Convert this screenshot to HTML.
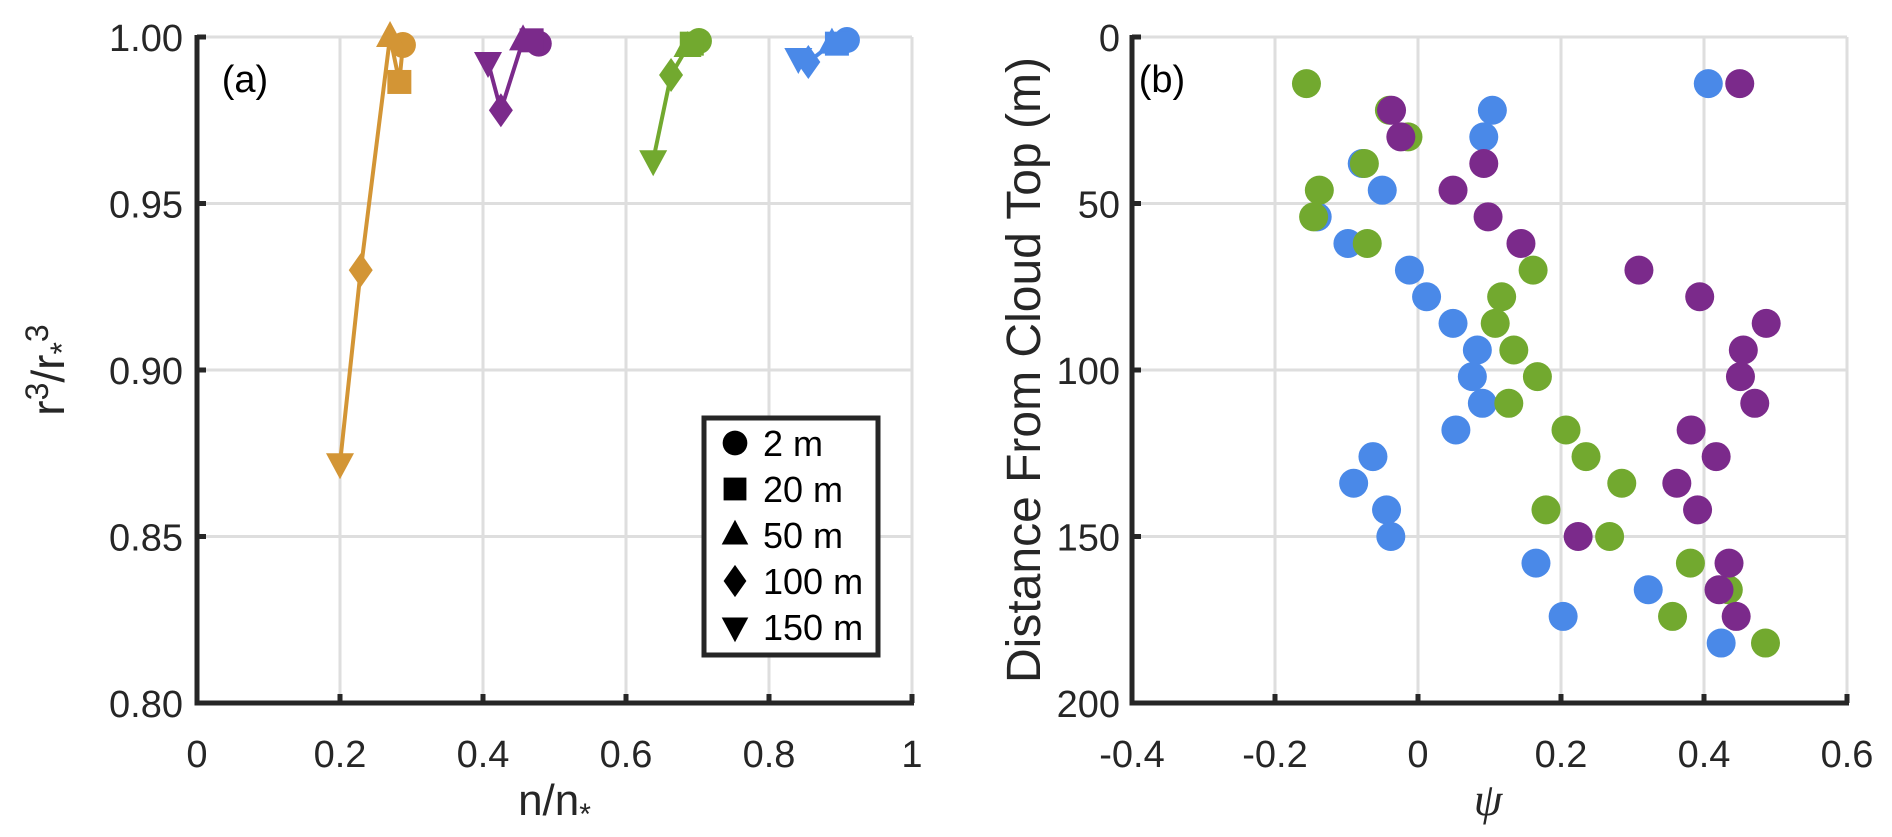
<!DOCTYPE html>
<html><head><meta charset="utf-8">
<style>
html,body{margin:0;padding:0;background:#fff;}
svg{display:block;font-family:"Liberation Sans",Arial,sans-serif;}
</style></head>
<body>
<svg id="fig" width="1892" height="837" viewBox="0 0 1892 837" xmlns="http://www.w3.org/2000/svg">
  <g id="panelA"></g>
  <g id="panelB"></g>
</svg>
<script>
// ---------- Panel (a) data ----------
const depthLabels = ["2 m","20 m","50 m","100 m","150 m"];
const markerShapes = ["circle","square","triangle","diamond","downtri"];
const orangeN = [0.288, 0.283, 0.270, 0.229, 0.200];
const orangeR = [0.9976, 0.9865, 1.000, 0.930, 0.872];
const purpleN = [0.478, 0.468, 0.456, 0.425, 0.407];
const purpleR = [0.998, 0.999, 0.999, 0.978, 0.9925];
const greenN = [0.702, 0.692, 0.686, 0.663, 0.638];
const greenR = [0.9988, 0.998, 0.997, 0.9886, 0.963];
const blueN = [0.909, 0.895, 0.888, 0.855, 0.841];
const blueR = [0.9991, 0.998, 0.998, 0.9925, 0.9937];
const aXTicks = [0, 0.2, 0.4, 0.6, 0.8, 1];
const aXTickLabels = ["0","0.2","0.4","0.6","0.8","1"];
const aYTicks = [0.80, 0.85, 0.90, 0.95, 1.00];
const aYTickLabels = ["0.80","0.85","0.90","0.95","1.00"];

// ---------- Panel (b) data ----------
const depths = [14,22,30,38,46,54,62,70,78,86,94,102,110,118,126,134,142,150,158,166,174,182];
const bluePsi = [0.406,0.104,0.092,-0.078,-0.050,-0.141,-0.098,-0.012,0.012,0.049,0.083,0.076,0.090,0.053,-0.063,-0.090,-0.044,-0.038,0.165,0.322,0.203,0.424];
const greenPsi = [-0.156,-0.040,-0.014,-0.075,-0.138,-0.146,-0.071,0.161,0.117,0.108,0.134,0.167,0.127,0.207,0.235,0.285,0.179,0.268,0.381,0.434,0.356,0.486];
const purplePsi = [0.450,-0.037,-0.024,0.092,0.049,0.098,0.144,0.309,0.394,0.487,0.455,0.451,0.471,0.382,0.417,0.362,0.391,0.224,0.435,0.421,0.445];
const bXTicks = [-0.4,-0.2,0,0.2,0.4,0.6];
const bXTickLabels = ["-0.4","-0.2","0","0.2","0.4","0.6"];
const bYTicks = [0,50,100,150,200];
const bYTickLabels = ["0","50","100","150","200"];

const NS = "http://www.w3.org/2000/svg";
const COL = {orange:"#d39535", purple:"#7b2a8b", green:"#72a92f", blue:"#4a89e8", axis:"#262626", grid:"#dedede"};
const TICK_FS = 38;
function mk(tag, attrs, parent){
  const e = document.createElementNS(NS, tag);
  for (const k in attrs) e.setAttribute(k, attrs[k]);
  parent.appendChild(e);
  return e;
}
const aX = v => 197 + v * 715;
const aY = v => 703 - (v - 0.8) / 0.2 * 666;
const bX = v => 1418 + v * 715;
const bY = v => 37 + v * 666 / 200;

function marker(shape, cx, cy, color, parent, s){
  s = s || 1;
  let e;
  if (shape === "circle") e = mk("circle", {cx:cx, cy:cy, r:13*s, fill:color}, parent);
  else if (shape === "square") e = mk("rect", {x:cx-12*s, y:cy-12*s, width:24*s, height:24*s, fill:color}, parent);
  else if (shape === "triangle") e = mk("polygon", {points:`${cx},${cy-16*s} ${cx-14*s},${cy+10*s} ${cx+14*s},${cy+10*s}`, fill:color}, parent);
  else if (shape === "diamond") e = mk("polygon", {points:`${cx},${cy-17*s} ${cx+12*s},${cy} ${cx},${cy+17*s} ${cx-12*s},${cy}`, fill:color}, parent);
  else e = mk("polygon", {points:`${cx},${cy+16*s} ${cx-14*s},${cy-10*s} ${cx+14*s},${cy-10*s}`, fill:color}, parent);
  return e;
}

// ---------- Panel A ----------
const A = document.getElementById("panelA");
const gA = mk("g", {}, A);


aXTicks.forEach(v => { if (v > 0) mk("line", {x1:aX(v), y1:aY(1.0), x2:aX(v), y2:aY(0.8), stroke:COL.grid, "stroke-width":3}, gA); });
aYTicks.forEach(v => { if (v > 0.8) mk("line", {x1:aX(0), y1:aY(v), x2:aX(1), y2:aY(v), stroke:COL.grid, "stroke-width":3}, gA); });

const seriesA = [
  {name:"orange", n:orangeN, r:orangeR},
  {name:"purple", n:purpleN, r:purpleR},
  {name:"green", n:greenN, r:greenR},
  {name:"blue", n:blueN, r:blueR}
];
seriesA.forEach(s => {
  const g = mk("g", {}, A);
  
  
  const pts = s.n.map((v,i) => aX(v) + "," + aY(s.r[i])).join(" ");
  const pl = mk("polyline", {points:pts, fill:"none", stroke:COL[s.name], "stroke-width":4, "stroke-linejoin":"round"}, g);
  
  
  s.n.forEach((v,i) => {
    const m = marker(markerShapes[i], aX(v), aY(s.r[i]), COL[s.name], g);
    
    
  });
});

const axA = mk("g", {}, A);


mk("line", {x1:aX(0), y1:aY(1.0)-2, x2:aX(0), y2:aY(0.8)+2.5, stroke:COL.axis, "stroke-width":5}, axA);
mk("line", {x1:aX(0)-2.5, y1:aY(0.8), x2:aX(1)+2, y2:aY(0.8), stroke:COL.axis, "stroke-width":5}, axA);
aXTicks.forEach((v,i) => {
  mk("line", {x1:aX(v), y1:aY(0.8), x2:aX(v), y2:aY(0.8)-9, stroke:COL.axis, "stroke-width":5}, axA);
  const t = mk("text", {x:aX(v), y:767, "font-size":TICK_FS, "text-anchor":"middle", fill:"#262626"}, axA);
  t.textContent = aXTickLabels[i];
  
  
});
aYTicks.forEach((v,i) => {
  mk("line", {x1:aX(0), y1:aY(v), x2:aX(0)+9, y2:aY(v), stroke:COL.axis, "stroke-width":5}, axA);
  const t = mk("text", {x:183, y:aY(v)+14, "font-size":TICK_FS, "text-anchor":"end", fill:"#262626"}, axA);
  t.textContent = aYTickLabels[i];
  
  
});

const labA = mk("text", {x:245, y:92, "font-size":38, "text-anchor":"middle", fill:"#000"}, A);
labA.textContent = "(a)";



const xtA = mk("text", {x:aX(0.5), y:815, "font-size":44, "text-anchor":"middle", fill:"#262626"}, A);
xtA.innerHTML = 'n/n<tspan font-size="30" dy="9">*</tspan>';



const ytA = mk("text", {x:0, y:0, "font-size":46, "text-anchor":"middle", fill:"#262626", transform:"translate(64,370) rotate(-90)"}, A);
ytA.innerHTML = 'r<tspan font-size="32" dy="-16">3</tspan><tspan dy="16">/r</tspan><tspan font-size="32" dy="9">*</tspan><tspan font-size="32" dy="-25">3</tspan>';



// legend
const leg = mk("g", {}, A);


mk("rect", {x:704, y:418, width:174, height:237, fill:"#fff", stroke:COL.axis, "stroke-width":5}, leg);
depthLabels.forEach((lab,i) => {
  const cy = 443 + i * 46;
  const row = mk("g", {}, leg);
  
  
  marker(markerShapes[i], 735, cy, "#000", row, 0.95);
  const t = mk("text", {x:763, y:cy+13, "font-size":36, fill:"#000"}, row);
  t.textContent = lab;
});

// ---------- Panel B ----------
const B = document.getElementById("panelB");
const gB = mk("g", {}, B);


bXTicks.forEach(v => { if (v > -0.4) mk("line", {x1:bX(v), y1:bY(0), x2:bX(v), y2:bY(200), stroke:COL.grid, "stroke-width":3}, gB); });
bYTicks.forEach(v => { if (v < 200) mk("line", {x1:bX(-0.4), y1:bY(v), x2:bX(0.6), y2:bY(v), stroke:COL.grid, "stroke-width":3}, gB); });

const seriesB = [
  {name:"blue", psi:bluePsi},
  {name:"green", psi:greenPsi},
  {name:"purple", psi:purplePsi}
];
seriesB.forEach(s => {
  const g = mk("g", {}, B);
  
  
  s.psi.forEach((v,i) => {
    const c = mk("circle", {cx:bX(v), cy:bY(depths[i]), r:14.5, fill:COL[s.name]}, g);
    
    
  });
});

const axB = mk("g", {}, B);


mk("line", {x1:bX(-0.4), y1:bY(0)-2, x2:bX(-0.4), y2:bY(200)+2.5, stroke:COL.axis, "stroke-width":5}, axB);
mk("line", {x1:bX(-0.4)-2.5, y1:bY(200), x2:bX(0.6)+2, y2:bY(200), stroke:COL.axis, "stroke-width":5}, axB);
bXTicks.forEach((v,i) => {
  mk("line", {x1:bX(v), y1:bY(200), x2:bX(v), y2:bY(200)-9, stroke:COL.axis, "stroke-width":5}, axB);
  const t = mk("text", {x:bX(v), y:767, "font-size":TICK_FS, "text-anchor":"middle", fill:"#262626"}, axB);
  t.textContent = bXTickLabels[i];
  
  
});
bYTicks.forEach((v,i) => {
  mk("line", {x1:bX(-0.4), y1:bY(v), x2:bX(-0.4)+9, y2:bY(v), stroke:COL.axis, "stroke-width":5}, axB);
  const t = mk("text", {x:1120, y:bY(v)+14, "font-size":TICK_FS, "text-anchor":"end", fill:"#262626"}, axB);
  t.textContent = bYTickLabels[i];
  
  
});

const labB = mk("text", {x:1162, y:92, "font-size":38, "text-anchor":"middle", fill:"#000"}, B);
labB.textContent = "(b)";



const xtB = mk("text", {x:1488, y:815, "font-size":46, "font-style":"italic", "font-family":"Liberation Serif, serif", "text-anchor":"middle", fill:"#262626"}, B);
xtB.textContent = "ψ";



const ytB = mk("text", {x:0, y:0, "font-size":48, "text-anchor":"middle", fill:"#262626", transform:"translate(1040,370) rotate(-90)"}, B);
ytB.textContent = "Distance From Cloud Top (m)";


</script>
</body></html>
